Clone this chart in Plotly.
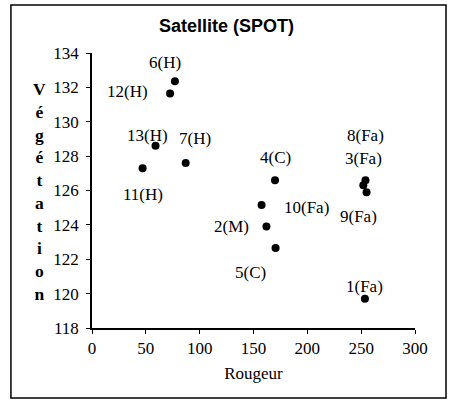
import plotly.graph_objects as go

# data
labels = ["1(Fa)", "2(M)", "3(Fa)", "4(C)", "5(C)", "6(H)", "7(H)",
          "8(Fa)", "9(Fa)", "10(Fa)", "11(H)", "12(H)", "13(H)"]
rougeur = [253.5, 162, 252, 170, 170.5, 77, 87, 254, 255, 157.5, 47, 72.5, 59]
vegetation = [119.7, 123.9, 126.3, 126.6, 122.65, 132.35, 127.6,
              126.6, 125.9, 125.15, 127.3, 131.65, 128.6]

x_ticks = [0, 50, 100, 150, 200, 250, 300]
y_ticks = [118, 120, 122, 124, 126, 128, 130, 132, 134]

# label offsets in pixels from each point (x right, y down)
label_dx = [0, -35, 0, 0, -25, -10, 9, 0, -8, 45, 0, -43, -8]
label_dy = [-12, 0, -27, -23, 24, -19, -25, -45, 24, 2, 26, -2, -10]

serif = "Liberation Serif"

fig = go.Figure()
fig.add_trace(go.Scatter(
    x=rougeur, y=vegetation, mode="markers",
    marker=dict(color="black", size=8),
    hoverinfo="skip"
))

for lab, x, y, dx, dy in zip(labels, rougeur, vegetation, label_dx, label_dy):
    fig.add_annotation(x=x, y=y, text=lab, showarrow=False,
                       xshift=dx, yshift=-dy,
                       font=dict(family=serif, size=17, color="black"))

# vertical stacked axis title
fig.add_annotation(xref="paper", yref="paper", x=-0.161, y=0.498,
                   text="<b>" + "<br>".join("Végétation") + "</b>", showarrow=False,
                   font=dict(family=serif, size=17.5, color="black"),
                   xanchor="center", yanchor="middle")

fig.update_layout(
    width=453, height=402,
    margin=dict(l=92, r=38, t=53, b=74),
    paper_bgcolor="white", plot_bgcolor="white",
    showlegend=False,
    title=dict(text="<b>Satellite (SPOT)</b>", x=0.5, xanchor="center",
               y=0.952, yanchor="top",
               font=dict(family="Liberation Sans", size=18, color="black")),
    xaxis=dict(range=[0, 300], tickvals=x_ticks, showgrid=False, zeroline=False,
               showline=True, linecolor="black", linewidth=1.5,
               ticks="outside", ticklen=4, tickcolor="black",
               tickfont=dict(family=serif, size=17, color="black"),
               title=dict(text="Rougeur", standoff=10,
                          font=dict(family=serif, size=17, color="black"))),
    yaxis=dict(range=[118, 134], tickvals=y_ticks, showgrid=False, zeroline=False,
               showline=True, linecolor="black", linewidth=1.5,
               ticks="outside", ticklen=4, tickcolor="black",
               ticklabelstandoff=4,
               tickfont=dict(family=serif, size=17, color="black")),
    shapes=[dict(type="rect", xref="paper", yref="paper",
                 x0=-0.251, x1=1.096, y0=-0.2545, y1=1.175,
                 line=dict(color="black", width=1.5))]
)

# the default page has an 8px body margin; drop it so the figure fills the window
fig.write_html("out.html", config={"displayModeBar": False},
               post_script="document.body.style.margin='0';")
